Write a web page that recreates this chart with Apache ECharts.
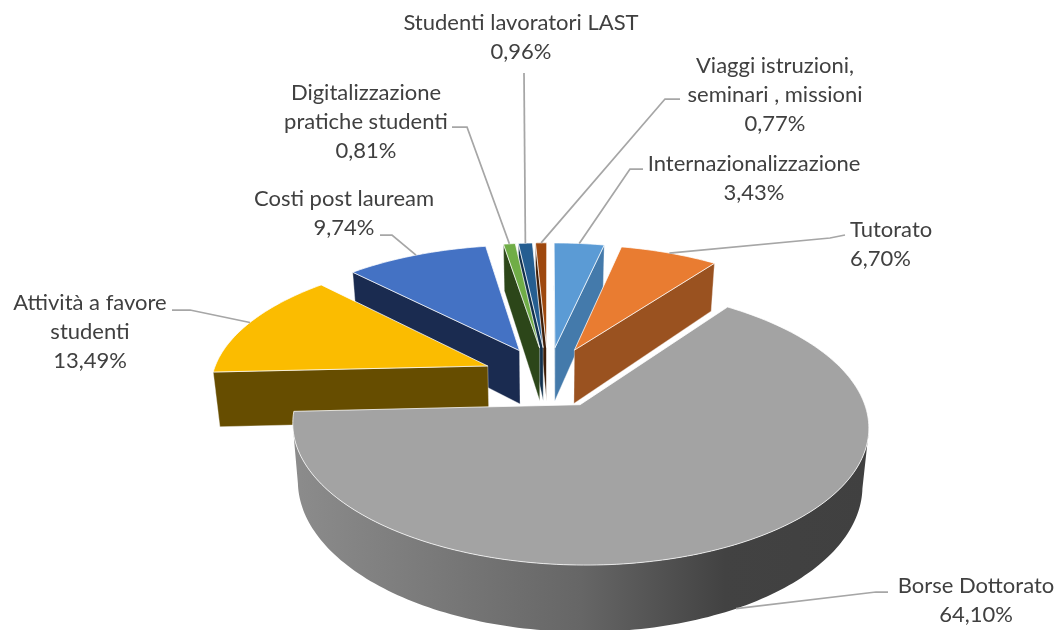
<!DOCTYPE html>
<html>
<head>
<meta charset="utf-8">
<style>html,body{margin:0;padding:0;background:#fff}#c{width:1056px;height:630px}</style>
<script src="https://cdn.jsdelivr.net/npm/echarts@6/dist/echarts.min.js"></script>
</head>
<body>
<div id="c"></div>
<script>
// ---- data ----
const categories = ['Internazionalizzazione','Tutorato','Borse Dottorato','Attività a favore studenti','Costi post lauream','Digitalizzazione pratiche studenti','Studenti lavoratori LAST','Viaggi istruzioni, seminari , missioni'];
const values = [3.43, 6.70, 64.10, 13.49, 9.74, 0.81, 0.96, 0.77];
const percentLabels = ['3,43%','6,70%','64,10%','13,49%','9,74%','0,81%','0,96%','0,77%'];
const nameLines = ['Internazionalizzazione','Tutorato','Borse Dottorato','Attività a favore\nstudenti','Costi post lauream','Digitalizzazione\npratiche studenti','Studenti lavoratori LAST','Viaggi istruzioni,\nseminari , missioni'];

// ---- style and layout ----
const topColors  = ['#5B9BD5','#E97C31','#A3A3A3','#FBBC00','#4472C4','#70AD47','#255E91','#9E480E'];
const wallColors = ['#447AAB','#9A5220','#6A6A6A','#664D00','#1A2B50','#2C4619','#12304C','#3F1D06'];
const drawOrder = [7,6,5,0,1,4,3,2];
const labelCenter = [[754,178],[850,244],[976,600],[90,332],[344,213],[366,122],[521,37],[775,95]];
const labelAlign = ['center','left','center','center','center','center','center','center'];
const leaderElbows = [
  [[643,169],[630,169]],
  [[845,235],[830,238]],
  [[888,592],[876,592]],
  [[172,310],[190,310]],
  [[380,235],[392,235]],
  [[452,127],[467,127]],
  [[524,73]],
  [[680,99],[665,99]]
];
const leaderOnBottom = [false,false,true,false,false,false,false,false];
const VIEW = {cx:548.1, cy:377, A:276, B:128, k:0.146, depth:55, shrink:0.98, explode:0.238};
const FONT = {family:'Lato', size:22, lineHeight:29, color:'#404040'};

function project(x,y,bottom){
  const w = 1 + VIEW.k*y, sx = VIEW.A*x/w, sy = VIEW.B*y/w;
  return bottom ? [VIEW.cx + VIEW.shrink*sx, VIEW.cy - sy + VIEW.depth/w] : [VIEW.cx + sx, VIEW.cy - sy];
}
const total = values.reduce((a,b)=>a+b,0);
const slices = []; let acc = 0;
values.forEach(v=>{
  const a0 = acc/total*2*Math.PI; acc += v;
  const a1 = acc/total*2*Math.PI, mid = (a0+a1)/2;
  slices.push({a0,a1,mid,ox:VIEW.explode*Math.sin(mid),oy:VIEW.explode*Math.cos(mid)});
});
const camera = [0,-1/VIEW.k];
function rimPoint(s,a){return [s.ox+Math.sin(a), s.oy+Math.cos(a)];}
function poly(points,fill,stroke,lw){
  return {type:'polygon',silent:true,shape:{points},style:{fill,stroke:stroke||null,lineWidth:lw||0,lineJoin:'round'}};
}
function radialFace(s,a,sign,color){
  const n=[sign*Math.cos(a),-sign*Math.sin(a)];
  const dot=n[0]*(camera[0]-s.ox)+n[1]*(camera[1]-s.oy);
  if(dot<=0) return null;
  const r=rimPoint(s,a);
  return poly([project(s.ox,s.oy),project(r[0],r[1]),project(r[0],r[1],true),project(s.ox,s.oy,true)],color,'rgba(255,255,255,0.45)',0.8);
}
function renderSlice(params,api){
  const i = api.value(0), s = slices[i], steps = Math.max(6,Math.ceil((s.a1-s.a0)*50));
  const children = [];
  // outer wall
  const up=[],down=[];
  for(let t=0;t<=steps;t++){
    const a=s.a0+(s.a1-s.a0)*t/steps, p=rimPoint(s,a);
    const dot=Math.sin(a)*(camera[0]-p[0])+Math.cos(a)*(camera[1]-p[1]);
    if(dot>0){up.push(project(p[0],p[1]));down.unshift(project(p[0],p[1],true));}
  }
  if(up.length>1){
    const fill = i===2 ? new echarts.graphic.LinearGradient(0,0,1,0,[
      {offset:0,color:'#8C8C8C'},{offset:0.5,color:'#666666'},{offset:0.75,color:'#424242'},{offset:1,color:'#404040'}]) : wallColors[i];
    children.push(poly(up.concat(down),fill));
  }
  // cut faces
  const f0=radialFace(s,s.a0,-1,wallColors[i]), f1=radialFace(s,s.a1,1,wallColors[i]);
  if(f0)children.push(f0); if(f1)children.push(f1);
  // top face
  const top=[project(s.ox,s.oy)];
  for(let t=0;t<=steps;t++){const p=rimPoint(s,s.a0+(s.a1-s.a0)*t/steps);top.push(project(p[0],p[1]));}
  children.push(poly(top,topColors[i],'rgba(255,255,255,0.75)',1));
  return {type:'group',children};
}
// leaders and labels are drawn last, from the same projection
function renderLabel(params,api){
  const i = api.value(0), s = slices[i], p = rimPoint(s,s.mid);
  const anchor = project(p[0],p[1],leaderOnBottom[i]);
  const pts = leaderElbows[i].concat([anchor]);
  return {type:'group',children:[
    {type:'polyline',silent:true,shape:{points:pts},style:{fill:null,stroke:'#A6A6A6',lineWidth:1.75}},
    {type:'text',silent:true,style:{text:nameLines[i]+'\n'+percentLabels[i],x:labelCenter[i][0],y:labelCenter[i][1],
      align:labelAlign[i],verticalAlign:'middle',fontFamily:FONT.family,fontSize:FONT.size,lineHeight:FONT.lineHeight,fill:FONT.color}}
  ]};
}
const chart = echarts.init(document.getElementById('c'),null,{renderer:'canvas'});
chart.setOption({
  animation:false,
  backgroundColor:'#ffffff',
  series:[
    {type:'custom',coordinateSystem:'none',renderItem:renderSlice,data:drawOrder.map(i=>({value:[i],name:categories[i]})),encode:{value:0},z:1},
    {type:'custom',coordinateSystem:'none',renderItem:renderLabel,data:values.map((v,i)=>({value:[i,v],name:categories[i]})),encode:{value:1},z:2}
  ]
});
</script>
</body>
</html>
